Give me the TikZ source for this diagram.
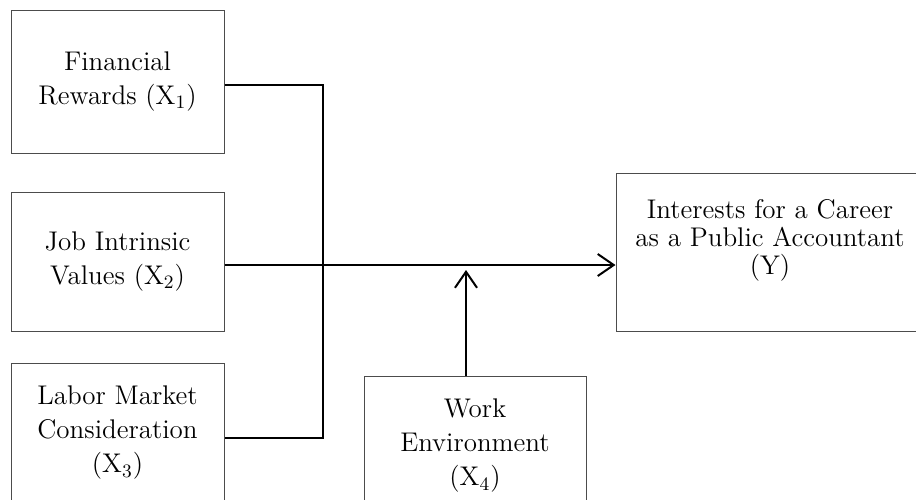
\documentclass[tikz,border=0pt]{standalone}
\usepackage{tikz}
\usetikzlibrary{arrows.meta,calc,positioning}

\begin{document}
\begin{tikzpicture}[x=0.5pt,y=-0.5pt,
  box/.style={draw=black!70,line width=0.5pt,inner sep=2pt,align=center,
    minimum width=106.5pt,font=\fontsize{13.5}{17}\selectfont},
  link/.style={line width=1pt},
  arr/.style={link,-{Straight Barb[length=8pt,width=11pt,line width=1pt]}}]
\useasboundingbox (0,0) rectangle (916,499);
\node[box,minimum height=71.5pt] (fin) at (117.5,81.5) {Financial\\Rewards (X\textsubscript{1})};
\node[box,minimum height=69.5pt] (job) at (117.5,261.5) {Job Intrinsic\\Values (X\textsubscript{2})};
\node[box,minimum height=70pt] (lab) at (117.5,433) {Labor Market\\Consideration\\(X\textsubscript{3})};
\node[box,minimum width=111pt,minimum height=70pt] (wrk) at (475,446) {Work\\Environment\\(X\textsubscript{4})};
\node[box,minimum width=154pt,minimum height=79pt,text depth=15pt,
  font=\fontsize{13.5}{14}\selectfont] (car) at (770,252) {Interests for a Career\\as a Public Accountant\\(Y)};
\coordinate (bus) at (323,0);
\coordinate (up) at (466,0);
\draw[link] ([yshift=-1.75pt]fin.east) -- ([yshift=-1.75pt]fin.east -| bus)
  -- ([yshift=-2.5pt]bus |- lab.east) -- ([yshift=-2.5pt]lab.east);
\draw[arr] ([yshift=-1.75pt]job.east) -- ([yshift=-1.75pt]job.east -| car.west);
\draw[arr] (wrk.north -| up) -- ($(job.east -| up)+(0,8.5)$);
\end{tikzpicture}
\end{document}
